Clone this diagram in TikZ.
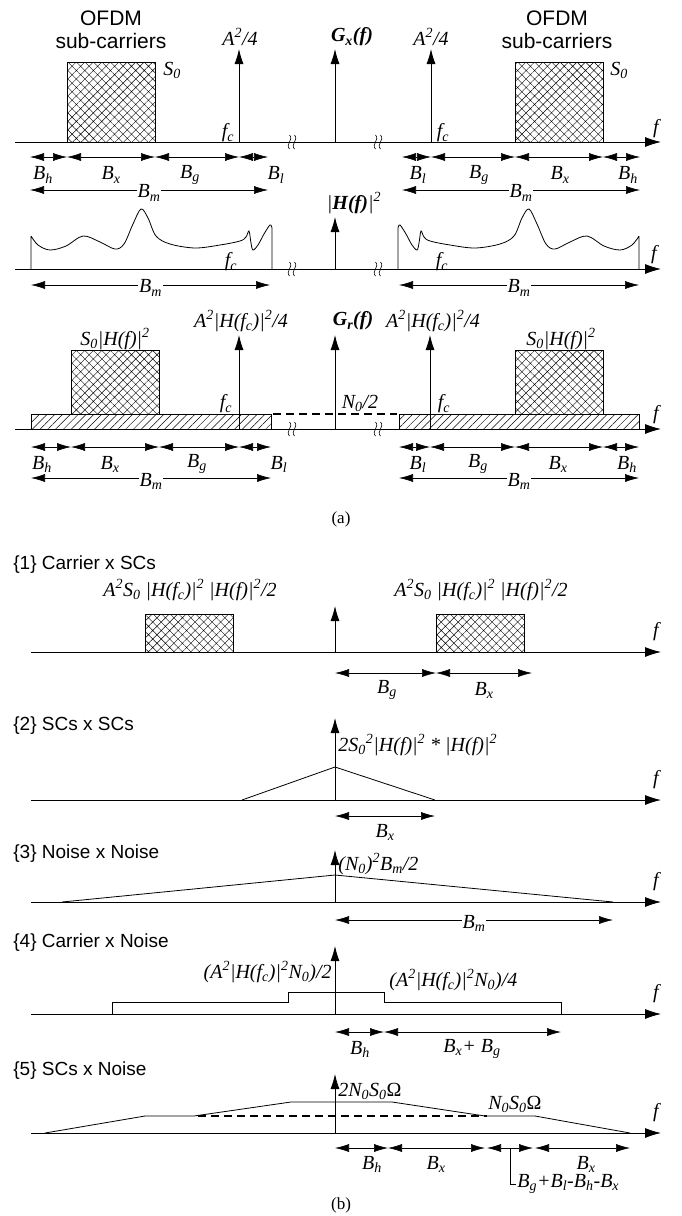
\documentclass[tikz,border=0pt]{standalone}
\usepackage{fontspec}
\setmainfont{Liberation Serif}
\setsansfont{Liberation Sans}
\usetikzlibrary{arrows.meta,patterns.meta,calc}

\newcommand{\lsub}[1]{\textsubscript{#1}}
\newcommand{\usup}[1]{\textsuperscript{#1}}

\begin{document}
\begin{tikzpicture}[x=1pt,y=-1pt,>=Latex,line width=0.8pt,
  every node/.style={font=\fontsize{20}{22}\selectfont\itshape,inner sep=1pt}]
\tikzstyle{faxis}=[-{Latex[length=16pt,width=10pt]}]
\tikzstyle{spike}=[-{Latex[length=15pt,width=9pt]}]
\tikzstyle{dimline}=[{Latex[length=14pt,width=8pt]}-{Latex[length=14pt,width=8pt]},line width=0.6pt]
\tikzstyle{scbox}=[draw,pattern={Hatch[angle=45,distance=6pt,line width=0.4pt]}]
\tikzstyle{noisebar}=[draw,pattern={Lines[angle=45,distance=5.5pt,line width=0.5pt]}]
\tikzstyle{sflabel}=[font=\fontsize{21}{23}\selectfont\sffamily,align=center]
\tikzstyle{rowlabel}=[font=\fontsize{19}{21}\selectfont\sffamily,anchor=west]
\tikzstyle{captext}=[font=\fontsize{17}{19}\selectfont]
\tikzstyle{dimtext}=[fill=white,yshift=-3pt]
\tikzstyle{noiseline}=[line width=1.6pt,dash pattern=on 8pt off 5pt]
\tikzset{axbreak/.pic={
  \draw[line width=0.6pt] (-2.5,-7) .. controls (2,-2) and (-7,2) .. (-2.5,7);
  \draw[line width=0.6pt] (2.5,-7) .. controls (7,-2) and (-2,2) .. (2.5,7);}}
\useasboundingbox (0,0) rectangle (682,1216);

% (a) transmitted spectrum
\draw[faxis] (15,142) -- (661,142) coordinate (a1end);
\node (f1) at (656,129) {f};
\pic at (292,142) {axbreak};
\pic at (378,142) {axbreak};
\draw[scbox] (67,62) rectangle (155,142);
\draw[scbox] (515,62) rectangle (603,142);
\node[sflabel] (ofdmL) at (111,30) {OFDM\\sub-carriers};
\node[sflabel] (ofdmR) at (557,30) {OFDM\\sub-carriers};
\node (s0L) at (172,70) {S\lsub{0}};
\node (s0R) at (619,70) {S\lsub{0}};
\draw[spike] (239,142) -- (239,49);
\draw[spike] (431,142) -- (431,49);
\draw[spike] (335,142) -- (335,49);
\node (carL) at (240,37) {A\usup{2}/4};
\node (carR) at (431,37) {A\usup{2}/4};
\node (gx) at (352,37) {\bfseries G\lsub{x}(f)};
\node (fcL1) at (228,133) {f\lsub{c}};
\node (fcR1) at (443,133) {f\lsub{c}};
\foreach \a/\b in {30/67,67/155,155/239,239/268,402/431,431/515,515/603,603/640}
  \draw[dimline] (\a,157) -- (\b,157);
\foreach \x/\t [count=\i] in {43/h,111/x,190/g,276/l,418/l,479/g,560/x,628/h}
  \node (bw1-\i) at (\x,175) {B\lsub{\t}};
\draw[dimline] (30,190) -- (268,190) node[midway,dimtext] (bm1L) {B\lsub{m}};
\draw[dimline] (402,190) -- (640,190) node[midway,dimtext] (bm1R) {B\lsub{m}};

% (a) channel response
\draw[faxis] (15,269) -- (661,269);
\node (f2) at (654,255) {f};
\pic at (292,269) {axbreak};
\pic at (378,269) {axbreak};
\draw[spike] (335,269) -- (335,217);
\node (hf) at (354,203) {|\bfseries H(f)\mdseries|\usup{2}};
\draw (31,269) -- (31,236) plot[smooth,tension=0.55] coordinates {(31,236) (38,245) (50,250) (66,246) (83,236) (100,242) (115,249) (124,244) (133,224) (141,209) (148,218) (156,236) (170,244) (195,248) (220,245) (240,241) (246,237) (249,231) (251,243) (253,250) (258,245) (264,234) (270,225) (272,228)} -- (272,269);
\begin{scope}[shift={(670,0)},xscale=-1]
\draw (31,269) -- (31,236) plot[smooth,tension=0.55] coordinates {(31,236) (38,245) (50,250) (66,246) (83,236) (100,242) (115,249) (124,244) (133,224) (141,209) (148,218) (156,236) (170,244) (195,248) (220,245) (240,241) (246,237) (249,231) (251,243) (253,250) (258,245) (264,234) (270,225) (272,228)} -- (272,269);
\end{scope}
\node (fcL2) at (231,262) {f\lsub{c}};
\node (fcR2) at (442,262) {f\lsub{c}};
\draw[dimline] (31,285) -- (270,285) node[midway,dimtext] (bm2L) {B\lsub{m}};
\draw[dimline] (399,285) -- (639,285) node[midway,dimtext] (bm2R) {B\lsub{m}};

% (a) received spectrum
\draw[noisebar] (31,414) rectangle (271,429);
\draw[noisebar] (399,414) rectangle (639,429);
\draw[faxis] (15,429) -- (661,429);
\node (f3) at (656,415) {f};
\pic at (292,429) {axbreak};
\pic at (378,429) {axbreak};
\draw[scbox] (71,350) rectangle (159,414);
\draw[scbox] (515,350) rectangle (603,414);
\draw[noiseline] (273,414) -- (397,414);
\node (n0) at (360,403) {N\lsub{0}/2};
\draw[spike] (239,429) -- (239,335);
\draw[spike] (430,429) -- (430,335);
\draw[spike] (335,429) -- (335,335);
\node (rcL) at (241,321) {A\usup{2}|H(f\lsub{c})|\usup{2}/4};
\node (rcR) at (433,321) {A\usup{2}|H(f\lsub{c})|\usup{2}/4};
\node (gr) at (353,321) {\bfseries G\lsub{r}(f)};
\node (shL) at (115,339) {S\lsub{0}|H(f)|\usup{2}};
\node (shR) at (561,339) {S\lsub{0}|H(f)|\usup{2}};
\node (fcL3) at (226,404) {f\lsub{c}};
\node (fcR3) at (444,404) {f\lsub{c}};
\foreach \a/\b in {31/71,71/159,159/239,239/271,399/430,430/515,515/603,603/639}
  \draw[dimline] (\a,447) -- (\b,447);
\foreach \x/\t [count=\i] in {42/h,110/x,197/g,279/l,418/l,478/g,558/x,627/h}
  \node (bw3-\i) at (\x,464) {B\lsub{\t}};
\draw[dimline] (31,478) -- (271,478) node[midway,dimtext] (bm3L) {B\lsub{m}};
\draw[dimline] (399,478) -- (639,478) node[midway,dimtext] (bm3R) {B\lsub{m}};
\node[captext] (capa) at (341,519) {(a)};

% (b) {1}
\node[rowlabel] (t1) at (12,565) {\{1\} Carrier x SCs};
\draw[scbox] (145,614) rectangle (233,652);
\draw[scbox] (436,614) rectangle (524,652);
\draw[faxis] (31,652) -- (661,652);
\draw[spike] (335,652) -- (335,606);
\node (p1L) at (190,590) {A\usup{2}S\lsub{0} |H(f\lsub{c})|\usup{2} |H(f)|\usup{2}/2};
\node (p1R) at (481,590) {A\usup{2}S\lsub{0} |H(f\lsub{c})|\usup{2} |H(f)|\usup{2}/2};
\node (f4) at (656,632) {f};
\draw[dimline] (335,673) -- (436,673);
\draw[dimline] (436,673) -- (532,673);
\node (bg4) at (387,690) {B\lsub{g}};
\node (bx4) at (484,690) {B\lsub{x}};

% (b) {2}
\node[rowlabel] (t2) at (12,726) {\{2\} SCs x SCs};
\draw[faxis] (31,800) -- (661,800);
\draw (242,800) -- (335,767) -- (435,800);
\draw[spike] (335,800) -- (335,718);
\node[anchor=west] (p2) at (337,745) {2S\lsub{0}\usup{2}|H(f)|\usup{2} * |H(f)|\usup{2}};
\node (f5) at (656,780) {f};
\draw[dimline] (335,816) -- (435,816);
\node (bx5) at (385,832) {B\lsub{x}};

% (b) {3}
\node[rowlabel] (t3) at (12,854) {\{3\} Noise x Noise};
\draw[faxis] (31,902) -- (661,902);
\draw (62,902) -- (335,875) -- (613,902);
\draw[spike] (335,902) -- (335,850);
\node[anchor=west] (p3) at (337,864) {(N\lsub{0})\usup{2}B\lsub{m}/2};
\node (f6) at (656,882) {f};
\draw[dimline] (335,920) -- (613,920) node[midway,dimtext] (bm6) {B\lsub{m}};

% (b) {4}
\node[rowlabel] (t4) at (12,943) {\{4\} Carrier x Noise};
\draw[faxis] (31,1014) -- (661,1014);
\draw (112,1014) -- (112,1002) -- (288,1002) -- (288,992) -- (384,992) -- (384,1002) -- (561,1002) -- (561,1014);
\draw[spike] (335,1014) -- (335,946);
\node[anchor=east] (p4L) at (333,972) {(A\usup{2}|H(f\lsub{c})|\usup{2}N\lsub{0})/2};
\node[anchor=west] (p4R) at (388,980) {(A\usup{2}|H(f\lsub{c})|\usup{2}N\lsub{0})/4};
\node (f7) at (656,994) {f};
\draw[dimline] (335,1032) -- (384,1032);
\draw[dimline] (384,1032) -- (561,1032);
\node (bh7) at (360,1049) {B\lsub{h}};
\node (bxg7) at (472,1049) {B\lsub{x}+ B\lsub{g}};

% (b) {5}
\node[rowlabel] (t5) at (12,1071) {\{5\} SCs x Noise};
\draw[faxis] (31,1133) -- (661,1133);
\draw (45,1133) -- (145,1116) -- (194,1116) -- (291,1102) -- (392,1102) -- (485,1116) -- (535,1116) -- (630,1133);
\draw[noiseline] (198,1116) -- (487,1116);
\draw[spike] (335,1133) -- (335,1074);
\node[anchor=west] (p5a) at (337,1091) {2N\lsub{0}S\lsub{0}{\upshape Ω}};
\node (p5b) at (515,1104) {N\lsub{0}S\lsub{0}{\upshape Ω}};
\node (f8) at (656,1113) {f};
\foreach \a/\b in {335/388,388/485,487/533,535/630}
  \draw[dimline] (\a,1148) -- (\b,1148);
\node (bh8) at (372,1164) {B\lsub{h}};
\node (bx8) at (436,1164) {B\lsub{x}};
\node (bx9) at (586,1164) {B\lsub{x}};
\node[anchor=west] (bsum) at (516,1184) {B\lsub{g}+B\lsub{l}-B\lsub{h}-B\lsub{x}};
\draw[line width=0.6pt] (510,1148) -- (510,1184) -- (bsum.west);
\node[captext] (capb) at (341,1205) {(b)};
\end{tikzpicture}
\end{document}
